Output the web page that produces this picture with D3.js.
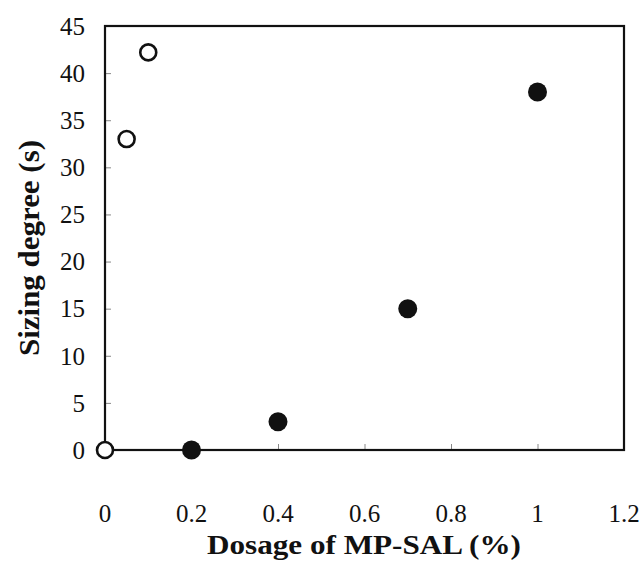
<!DOCTYPE html>
<html><head><meta charset="utf-8">
<script src="https://cdn.jsdelivr.net/npm/d3@7"></script>
<style>body{margin:0;background:#fff}svg{display:block}</style>
</head><body>
<script>
const openX = [0, 0.05, 0.1];
const openY = [0, 33, 42.2];
const filledX = [0.2, 0.4, 0.7, 1.0];
const filledY = [0, 3, 15, 38];
const xTicks = [0, 0.2, 0.4, 0.6, 0.8, 1, 1.2];
const yTicks = [0, 5, 10, 15, 20, 25, 30, 35, 40, 45];
const xTitle = "Dosage of MP-SAL (%)";
const yTitle = "Sizing degree (s)";

const W = 640, H = 561;
const m = {left: 105, right: 16, top: 26, bottom: 111};
const svg = d3.select("body").append("svg").attr("width", W).attr("height", H);
const x = d3.scaleLinear().domain([0, 1.2]).range([m.left, W - m.right]);
const y = d3.scaleLinear().domain([0, 45]).range([H - m.bottom, m.top]);

const xAxis = d3.axisTop(x).tickValues(xTicks).tickSize(6).tickFormat("");
const gx = svg.append("g").attr("transform", `translate(0,${y(0)})`).call(xAxis);
gx.select(".domain").remove();
gx.selectAll("line").attr("stroke", "#888").attr("stroke-width", 1);
const yAxis = d3.axisRight(y).tickValues(yTicks).tickSize(6).tickFormat("");
const gy = svg.append("g").attr("transform", `translate(${x(0)},0)`).call(yAxis);
gy.select(".domain").remove();
gy.selectAll("line").attr("stroke", "#888").attr("stroke-width", 1);

svg.append("rect").attr("x", x(0)).attr("y", y(45))
  .attr("width", x(1.2) - x(0)).attr("height", y(0) - y(45))
  .attr("fill", "none").attr("stroke", "#111").attr("stroke-width", 2.2);

const font = "Liberation Serif";
svg.append("g").selectAll("text").data(xTicks).join("text")
  .attr("x", d => x(d)).attr("y", 522)
  .attr("text-anchor", "middle").style("font-family", font).attr("font-size", 25)
  .attr("fill", "#111").text(d => d3.format("~g")(d));
svg.append("g").selectAll("text").data(yTicks).join("text")
  .attr("x", 85).attr("y", d => y(d)).attr("dy", "0.35em")
  .attr("text-anchor", "end").style("font-family", font).attr("font-size", 25)
  .attr("fill", "#111").text(d => d);

svg.append("text").attr("x", 364).attr("y", 554).attr("text-anchor", "middle")
  .style("font-family", font).attr("font-weight", "bold").attr("font-size", 27)
  .attr("textLength", 314).attr("lengthAdjust", "spacingAndGlyphs")
  .attr("fill", "#111").text(xTitle);
svg.append("text").attr("transform", "translate(39,248) rotate(-90)")
  .attr("text-anchor", "middle").style("font-family", font).attr("font-weight", "bold")
  .attr("font-size", 30).attr("textLength", 216).attr("lengthAdjust", "spacingAndGlyphs")
  .attr("fill", "#111").text(yTitle);

const filled = filledX.map((d, i) => ({x: d, y: filledY[i]}));
const open = openX.map((d, i) => ({x: d, y: openY[i]}));
svg.append("g").selectAll("circle").data(filled).join("circle")
  .attr("cx", d => x(d.x)).attr("cy", d => y(d.y)).attr("r", 9.5).attr("fill", "#111");
svg.append("g").selectAll("circle").data(open).join("circle")
  .attr("cx", d => x(d.x)).attr("cy", d => y(d.y)).attr("r", 8)
  .attr("fill", "#fff").attr("stroke", "#111").attr("stroke-width", 2.6);
</script>
</body></html>
